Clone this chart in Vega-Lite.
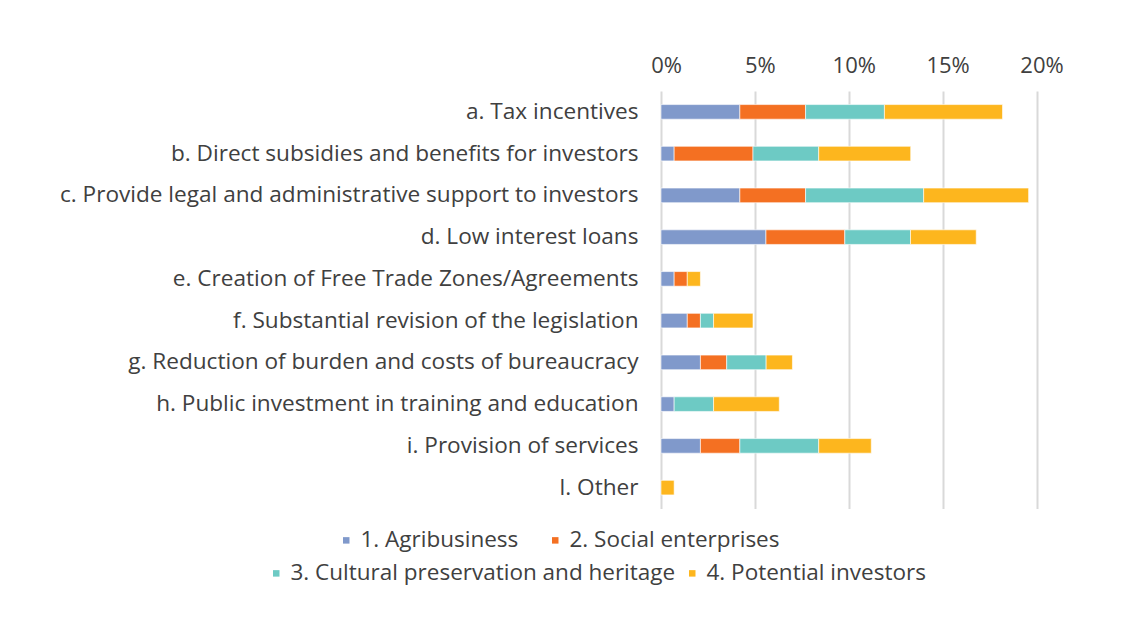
{
  "$schema": "https://vega.github.io/schema/vega-lite/v6.json",
  "width": 375.5,
  "height": 417.5,
  "autosize": {"type": "none"},
  "padding": {"left": 661, "top": 91, "right": 91.5, "bottom": 110.5},
  "background": "white",
  "config": {
    "view": {"stroke": null},
    "font": "Open Sans",
    "axis": {"labelFont": "Open Sans", "labelColor": "#404040", "labelFontSize": 22},
    "legend": {"labelFont": "Open Sans", "labelColor": "#404040", "labelFontSize": 22.5, "labelLimit": 600}
  },
  "data": {
    "values": [
      {"measure": "a. Tax incentives", "series": "1. Agribusiness", "value": 0.042},
      {"measure": "a. Tax incentives", "series": "2. Social enterprises", "value": 0.035},
      {"measure": "a. Tax incentives", "series": "3. Cultural preservation and heritage", "value": 0.042},
      {"measure": "a. Tax incentives", "series": "4. Potential investors", "value": 0.0629},
      {"measure": "b. Direct subsidies and benefits for investors", "series": "1. Agribusiness", "value": 0.007},
      {"measure": "b. Direct subsidies and benefits for investors", "series": "2. Social enterprises", "value": 0.042},
      {"measure": "b. Direct subsidies and benefits for investors", "series": "3. Cultural preservation and heritage", "value": 0.035},
      {"measure": "b. Direct subsidies and benefits for investors", "series": "4. Potential investors", "value": 0.049},
      {"measure": "c. Provide legal and administrative support to investors", "series": "1. Agribusiness", "value": 0.042},
      {"measure": "c. Provide legal and administrative support to investors", "series": "2. Social enterprises", "value": 0.035},
      {"measure": "c. Provide legal and administrative support to investors", "series": "3. Cultural preservation and heritage", "value": 0.0629},
      {"measure": "c. Provide legal and administrative support to investors", "series": "4. Potential investors", "value": 0.0559},
      {"measure": "d. Low interest loans", "series": "1. Agribusiness", "value": 0.0559},
      {"measure": "d. Low interest loans", "series": "2. Social enterprises", "value": 0.042},
      {"measure": "d. Low interest loans", "series": "3. Cultural preservation and heritage", "value": 0.035},
      {"measure": "d. Low interest loans", "series": "4. Potential investors", "value": 0.035},
      {"measure": "e. Creation of Free Trade Zones/Agreements", "series": "1. Agribusiness", "value": 0.007},
      {"measure": "e. Creation of Free Trade Zones/Agreements", "series": "2. Social enterprises", "value": 0.007},
      {"measure": "e. Creation of Free Trade Zones/Agreements", "series": "4. Potential investors", "value": 0.007},
      {"measure": "f. Substantial revision of the legislation", "series": "1. Agribusiness", "value": 0.014},
      {"measure": "f. Substantial revision of the legislation", "series": "2. Social enterprises", "value": 0.007},
      {"measure": "f. Substantial revision of the legislation", "series": "3. Cultural preservation and heritage", "value": 0.007},
      {"measure": "f. Substantial revision of the legislation", "series": "4. Potential investors", "value": 0.021},
      {"measure": "g. Reduction of burden and costs of bureaucracy", "series": "1. Agribusiness", "value": 0.021},
      {"measure": "g. Reduction of burden and costs of bureaucracy", "series": "2. Social enterprises", "value": 0.014},
      {"measure": "g. Reduction of burden and costs of bureaucracy", "series": "3. Cultural preservation and heritage", "value": 0.021},
      {"measure": "g. Reduction of burden and costs of bureaucracy", "series": "4. Potential investors", "value": 0.014},
      {"measure": "h. Public investment in training and education", "series": "1. Agribusiness", "value": 0.007},
      {"measure": "h. Public investment in training and education", "series": "3. Cultural preservation and heritage", "value": 0.021},
      {"measure": "h. Public investment in training and education", "series": "4. Potential investors", "value": 0.035},
      {"measure": "i. Provision of services", "series": "1. Agribusiness", "value": 0.021},
      {"measure": "i. Provision of services", "series": "2. Social enterprises", "value": 0.021},
      {"measure": "i. Provision of services", "series": "3. Cultural preservation and heritage", "value": 0.042},
      {"measure": "i. Provision of services", "series": "4. Potential investors", "value": 0.028},
      {"measure": "l. Other", "series": "4. Potential investors", "value": 0.007}
    ]
  },
  "transform": [
    {"stack": "value", "groupby": ["measure"], "sort": [{"field": "series", "order": "ascending"}], "as": ["x0", "x1"]}
  ],
  "encoding": {
    "y": {
      "field": "measure",
      "type": "nominal",
      "sort": null,
      "scale": {"paddingInner": 0.65, "paddingOuter": 0.325},
      "axis": {"title": null, "ticks": false, "domain": false, "labelPadding": 23, "labelLimit": 700, "labelFontSize": 22.6}
    },
    "x": {
      "field": "x0",
      "type": "quantitative",
      "scale": {"domain": [0, 0.2], "nice": false},
      "axis": {
        "orient": "top",
        "title": null,
        "format": ".0%",
        "values": [0, 0.05, 0.1, 0.15, 0.2],
        "ticks": false,
        "domain": false,
        "labelPadding": 14,
        "labelFlush": false,
        "labelOffset": 5,
        "gridColor": "#d9d9d9",
        "gridWidth": 2
      }
    },
    "x2": {"field": "x1"}
  },
  "layer": [
    {
      "transform": [{"filter": {"field": "series", "oneOf": ["1. Agribusiness", "2. Social enterprises"]}}],
      "mark": {"type": "bar", "stroke": "white", "strokeWidth": 0.6},
      "encoding": {
        "color": {
          "field": "series",
          "type": "nominal",
          "scale": {"domain": ["1. Agribusiness", "2. Social enterprises"], "range": ["#8099CB", "#F47022"]},
          "legend": {
            "title": null,
            "orient": "none",
            "direction": "horizontal",
            "legendX": -326,
            "legendY": 438,
            "symbolType": "square",
            "symbolSize": 42,
            "symbolStrokeWidth": 0,
            "labelOffset": 3,
            "columnPadding": 25,
            "padding": 0
          }
        }
      }
    },
    {
      "transform": [{"filter": {"field": "series", "oneOf": ["3. Cultural preservation and heritage", "4. Potential investors"]}}],
      "mark": {"type": "bar", "stroke": "white", "strokeWidth": 0.6},
      "encoding": {
        "color": {
          "field": "series",
          "type": "nominal",
          "scale": {"domain": ["3. Cultural preservation and heritage", "4. Potential investors"], "range": ["#6DCAC4", "#FDB61E"]},
          "legend": {
            "title": null,
            "orient": "none",
            "direction": "horizontal",
            "legendX": -396,
            "legendY": 471,
            "symbolType": "square",
            "symbolSize": 42,
            "symbolStrokeWidth": 0,
            "labelOffset": 3,
            "columnPadding": 5,
            "padding": 0
          }
        }
      }
    }
  ],
  "resolve": {"scale": {"color": "independent"}}
}
